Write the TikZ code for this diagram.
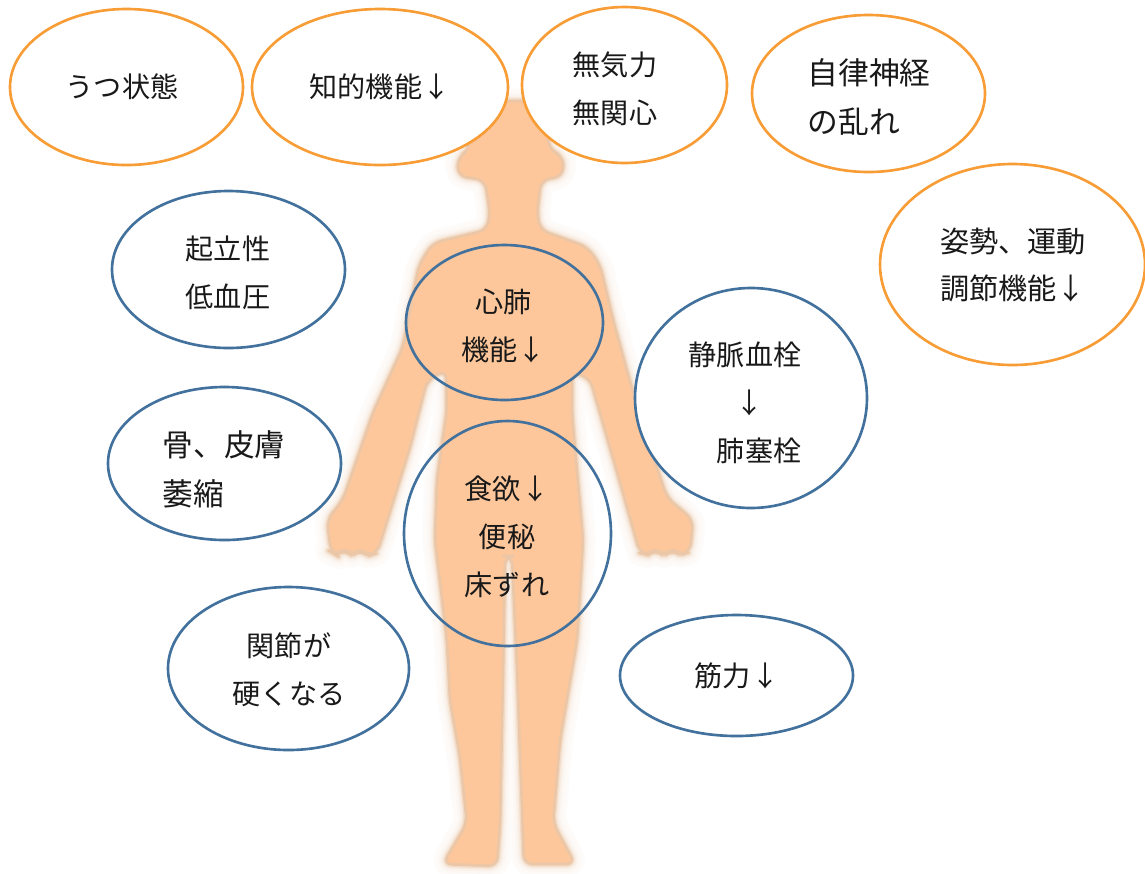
\documentclass[tikz,border=0pt]{standalone}
\usepackage{fontspec}
\setmainfont{Noto Sans CJK JP}
\usetikzlibrary{shapes.geometric}
\definecolor{skin}{HTML}{FDC79B}
\definecolor{skinedge}{HTML}{EBC7A8}
\definecolor{ringorange}{HTML}{F89C36}
\definecolor{ringblue}{HTML}{41719C}
\tikzset{
  x=0.02cm,y=-0.02cm,
  ring/.style={ellipse,draw,line width=1.5pt,inner sep=0pt,outer sep=0pt},
  warm/.style={ring,draw=ringorange,fill=white},
  cool/.style={ring,draw=ringblue,fill=white},
  coolopen/.style={ring,draw=ringblue},
  lbl/.style={inner sep=0pt,align=left,text=black!90,font=\fontsize{16}{27.2}\selectfont},
  lblwide/.style={lbl,font=\fontsize{17.5}{27.8}\selectfont},
}
\newcommand{\ringat}[5]{\node[#1,minimum width=#4*0.02cm,minimum height=#5*0.02cm] (#2) at #3 {};}
\newcommand{\figureoutline}{
  (484,101) -- (532,101) -- (547,120) -- (549,150) -- (563,156) -- (563,176) -- (541,180)
  -- (537,213) -- (540,230) -- (587,247) -- (600,265) -- (613,320) -- (628,375) -- (645,432) -- (667,498)
  -- (693,520) -- (690,552) -- (680,555) -- (672,549) -- (664,556) -- (656,549) -- (648,555) -- (640,553)
  -- (620,482) -- (590,378) -- (572,372) -- (572,415) -- (583,540)
  -- (577,640) -- (560,740) -- (553,823) -- (575,864) -- (524,864) -- (517,667) -- (512,556) -- (505,556)
  -- (503,673) -- (500,823) -- (497,866) -- (443,864) -- (467,823) -- (460,757) -- (450,700) -- (447,640)
  -- (435,540) -- (437,480) -- (447,410) -- (446,370) -- (427,380) -- (410,447) -- (377,553)
  -- (368,556) -- (360,549) -- (352,556) -- (345,549) -- (336,555) -- (331,552)
  -- (327,520) -- (343,500) -- (373,413) -- (403,347) -- (419,265) -- (433,243) -- (487,230) -- (490,213)
  -- (485,180) -- (458,176) -- (458,157) -- (470,150) -- (467,120) -- cycle}
\begin{document}
\begin{tikzpicture}
  \useasboundingbox (0,0) rectangle (1145,873);

  % human figure, its edge fading out in layers
  \begin{scope}[rounded corners=5pt,line join=round]
    \foreach \w/\c in {15/5,12/9,9/15,6.5/24,4.5/40,3/65}{
      \draw[skinedge!\c!white,line width=\w pt] \figureoutline;
    }
    \draw[skinedge,fill=skin,line width=1.5pt] \figureoutline;
  \end{scope}

  % upper group of rings
  \ringat{warm}{depress}{(126.5,87)}{233}{156}
  \ringat{warm}{cognition}{(380,87)}{256}{156}
  \ringat{warm}{apathy}{(624.5,85)}{205}{156}
  \ringat{warm}{autonomic}{(868.5,93.5)}{233}{157}
  \ringat{warm}{posture}{(1012.5,264.5)}{265}{201}

  % lower group of rings
  \ringat{cool}{hypotension}{(228.5,269.5)}{233}{157}
  \ringat{coolopen}{cardio}{(504.5,322.5)}{197}{155}
  \ringat{cool}{thrombus}{(751,398)}{232}{220}
  \ringat{cool}{atrophy}{(224.5,463.5)}{233}{153}
  \ringat{coolopen}{digest}{(507.5,533.5)}{207}{225}
  \ringat{cool}{joint}{(288.5,668.5)}{241}{163}
  \ringat{cool}{muscle}{(736.5,675.5)}{233}{121}

  % labels
  \node[lbl] (t1) at (122,87) {うつ状態};
  \node[lbl] (t2) at (380,87) {知的機能↓};
  \node[lbl] (t3) at (615,89) {無気力\\無関心};
  \node[lblwide] (t4) at (869,97) {自律神経\\の乱れ};
  \node[lbl,font=\fontsize{16.6}{27.2}\selectfont] (t5) at (1013,265) {姿勢、運動\\調節機能↓};
  \node[lbl] (t6) at (228,273) {起立性\\低血圧};
  \node[lbl] (t7) at (503.5,326) {\hspace{8pt}心肺\\機能↓};
  \node[lbl] (t8) at (745,403) {静脈血栓\\\hspace{26.5pt}↓\\\hspace{16pt}肺塞栓};
  \node[lblwide] (t9) at (224,469) {骨、皮膚\\萎縮};
  \node[lbl] (t10) at (507,537) {食欲↓\\\hspace{8pt}便秘\\床ずれ};
  \node[lbl] (t11) at (289,670) {\hspace{8pt}関節が\\硬くなる};
  \node[lbl] (t12) at (737,676) {筋力↓};
\end{tikzpicture}
\end{document}
